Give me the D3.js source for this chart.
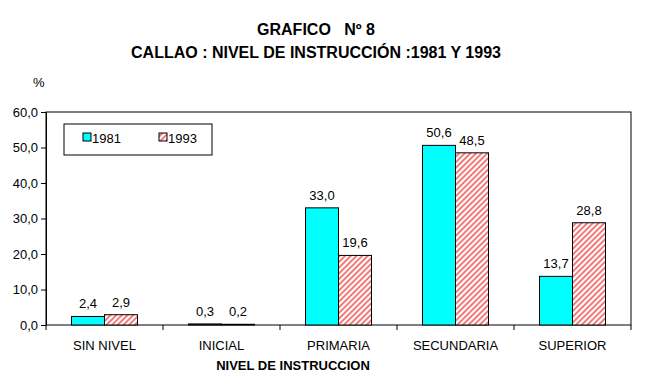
<!DOCTYPE html>
<html><head><meta charset="utf-8">
<script src="https://cdn.jsdelivr.net/npm/d3@7"></script>
<style>body{margin:0;background:#fff;}svg{display:block;font-family:"Liberation Sans",Arial,sans-serif;}</style>
</head><body><svg id="c" width="647" height="380"></svg>
<script>
const categories = ["SIN NIVEL","INICIAL","PRIMARIA","SECUNDARIA","SUPERIOR"];
const seriesNames = ["1981","1993"];
const values1981 = [2.4, 0.3, 33.0, 50.6, 13.7];
const values1993 = [2.9, 0.2, 19.6, 48.5, 28.8];
const yTicks = [0,10,20,30,40,50,60];
const titleLines = ["GRAFICO   Nº 8","CALLAO : NIVEL DE INSTRUCCIÓN :1981 Y 1993"];
const xTitle = "NIVEL DE INSTRUCCION";
const yUnit = "%";

const svg = d3.select("#c");
const L=46, R=631, T=112, B=325;
const fmt = v => d3.format(".1f")(v).replace(".", ",");
const FS = 13;

const defs = svg.append("defs");
const pat = defs.append("pattern").attr("id","hatch").attr("patternUnits","userSpaceOnUse")
  .attr("width",4).attr("height",4).attr("patternTransform","rotate(45)");
pat.append("rect").attr("width",4).attr("height",4).attr("fill","#fff");
pat.append("rect").attr("width",2).attr("height",4).attr("fill","#f47a7a");

const x0 = d3.scaleBand().domain(categories).range([L,R]).padding(0);
const x1 = d3.scaleBand().domain(seriesNames).range([0,x0.bandwidth()]).paddingInner(0).paddingOuter(0.773);
const y = d3.scaleLinear().domain([0,60]).range([B,T]);
const fills = {"1981":"#00ffff","1993":"url(#hatch)"};
const data = {"1981":values1981,"1993":values1993};

// titles
svg.selectAll("text.title").data(titleLines).join("text").attr("class","title")
  .attr("x",316).attr("y",(d,i)=>35+i*23).attr("text-anchor","middle")
  .style("white-space","pre")
  .attr("font-size",16).attr("font-weight","bold").text(d=>d);
svg.append("text").attr("x",33).attr("y",87).attr("font-size",FS).text(yUnit);

// plot border
svg.append("rect").attr("x",L).attr("y",T).attr("width",R-L).attr("height",B-T)
  .attr("fill","none").attr("stroke","#000").attr("stroke-width",1);

// y axis
const ya = svg.append("g").attr("transform",`translate(${L},0)`)
  .call(d3.axisLeft(y).tickValues(yTicks).tickFormat(fmt).tickSize(5).tickPadding(3));
ya.select(".domain").attr("stroke","#000");
ya.selectAll("text").attr("font-size",FS).attr("font-family","Liberation Sans, Arial").attr("fill","#000");

// x axis ticks at boundaries
const xa = svg.append("g").attr("transform",`translate(0,${B})`)
  .call(d3.axisBottom(x0).tickSize(0).tickPadding(16));
xa.select(".domain").remove();
xa.selectAll("text").attr("font-size",FS).attr("font-family","Liberation Sans, Arial").attr("fill","#000");
const bounds = categories.map(c=>x0(c)).concat([x0(categories[categories.length-1])+x0.bandwidth()]);
svg.append("g").selectAll("line").data(bounds).join("line")
  .attr("x1",d=>d).attr("x2",d=>d).attr("y1",B).attr("y2",B+5).attr("stroke","#000");

// bars
seriesNames.forEach(s=>{
  const g = svg.append("g");
  g.selectAll("rect").data(categories).join("rect")
    .attr("x",c=>x0(c)+x1(s)).attr("width",x1.bandwidth())
    .attr("y",(c,i)=>y(data[s][i])).attr("height",(c,i)=>B-y(data[s][i]))
    .attr("fill",fills[s]).attr("stroke","#000").attr("stroke-width",1);
  g.selectAll("text").data(categories).join("text")
    .attr("x",c=>x0(c)+x1(s)+x1.bandwidth()/2).attr("y",(c,i)=>y(data[s][i])-8)
    .attr("text-anchor","middle").attr("font-size",FS).text((c,i)=>fmt(data[s][i]));
});

// x title
svg.append("text").attr("x",293).attr("y",370).attr("text-anchor","middle")
  .attr("font-size",13).attr("font-weight","bold").text(xTitle);

// legend
const lg = svg.append("g");
lg.append("rect").attr("x",64).attr("y",124).attr("width",148).attr("height",31)
  .attr("fill","#fff").attr("stroke","#000");
const lx = [83,159];
seriesNames.forEach((s,i)=>{
  lg.append("rect").attr("x",lx[i]).attr("y",133).attr("width",8).attr("height",8)
    .attr("fill",fills[s]).attr("stroke","#000");
  lg.append("text").attr("x",lx[i]+9).attr("y",143).attr("font-size",FS).text(s);
});
</script></body></html>
